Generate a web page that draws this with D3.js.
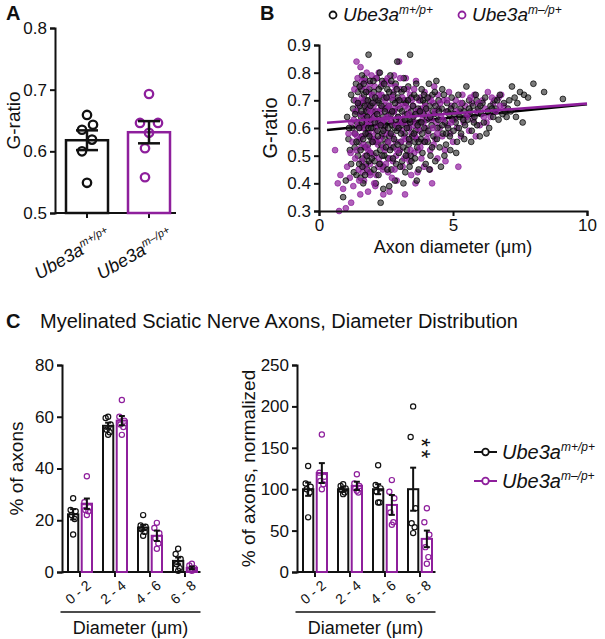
<!DOCTYPE html>
<html><head><meta charset="utf-8">
<script src="https://cdn.jsdelivr.net/npm/d3@7"></script>
<style>body{margin:0;background:#fff} text{font-family:"Liberation Sans",Arial,sans-serif;fill:#111}</style>
</head><body><svg id="c" width="605" height="639"></svg>
<script>
const PURPLE="#8e1f9c", BLACK="#111";
const genotypes=["m+/p+","m\u2013/p+"];
// ---------- Panel A ----------
const aMeans=[0.618,0.631];
const aSem=[0.016,0.018];
const aPointsWT=[0.659,0.643,0.635,0.619,0.600,0.549];
const aPointsMut=[0.693,0.646,0.646,0.630,0.605,0.558];
const aTicks=[0.5,0.6,0.7,0.8];
// ---------- Panel B ----------
const bTicksY=[0.3,0.4,0.5,0.6,0.7,0.8,0.9];
const bTicksX=[0,5,10];
const bFitWT=[[0.3,0.593],[10,0.686]];
const bFitMut=[[0.3,0.619],[10,0.688]];
const bWT=[[1.05,0.64],[1.1,0.56],[1.15,0.52],[1.2,0.47],[1.25,0.60],[1.3,0.70],[1.35,0.58],[1.4,0.66],[1.45,0.50],[1.3,0.44],[1.2,0.72],[1.38,0.76],[1.42,0.62],[1.48,0.55],[1.33,0.53],[1.27,0.67],[1.45,0.73],[1.12,0.60],[1.4,0.43],[0.9,0.35],[1.0,0.41],
[1.52,0.68],[1.55,0.61],[1.58,0.74],[1.6,0.57],[1.63,0.49],[1.66,0.65],[1.7,0.78],[1.72,0.53],[1.75,0.70],[1.78,0.62],[1.8,0.45],[1.82,0.58],[1.85,0.67],[1.88,0.74],[1.9,0.51],[1.93,0.63],[1.96,0.56],[1.98,0.71],[1.55,0.42],[1.65,0.40],[1.75,0.47],[1.6,0.79],[1.85,0.865],[1.7,0.60],[1.92,0.44],[1.57,0.64],[1.68,0.72],[1.83,0.54],[1.62,0.69],[1.77,0.66],
[2.02,0.60],[2.05,0.73],[2.08,0.48],[2.1,0.66],[2.13,0.55],[2.16,0.78],[2.2,0.62],[2.22,0.43],[2.25,0.69],[2.28,0.52],[2.3,0.33],[2.32,0.75],[2.35,0.58],[2.38,0.64],[2.4,0.46],[2.42,0.71],[2.45,0.56],[2.48,0.67],[2.12,0.40],[2.27,0.80],[2.44,0.50],[2.18,0.59],[2.36,0.77],[2.06,0.64],[2.33,0.54],[2.47,0.61],[2.21,0.70],[2.4,0.38],
[2.52,0.63],[2.55,0.74],[2.58,0.49],[2.6,0.68],[2.63,0.57],[2.66,0.79],[2.7,0.45],[2.72,0.61],[2.75,0.70],[2.78,0.53],[2.8,0.66],[2.83,0.41],[2.86,0.76],[2.9,0.59],[2.92,0.84],[2.95,0.64],[2.98,0.51],[2.62,0.39],[2.77,0.72],[2.88,0.47],[2.56,0.55],[2.68,0.65],[2.94,0.71],[2.82,0.60],
[3.02,0.67],[3.05,0.55],[3.08,0.73],[3.1,0.48],[3.13,0.62],[3.16,0.78],[3.2,0.58],[3.22,0.44],[3.25,0.69],[3.28,0.52],[3.3,0.65],[3.33,0.75],[3.36,0.60],[3.4,0.865],[3.42,0.50],[3.45,0.71],[3.48,0.57],[3.15,0.40],[3.38,0.46],[3.26,0.63],[3.07,0.61],[3.44,0.66],[3.18,0.70],[3.35,0.54],
[3.52,0.64],[3.55,0.72],[3.58,0.49],[3.6,0.59],[3.63,0.76],[3.66,0.53],[3.7,0.67],[3.72,0.45],[3.75,0.62],[3.78,0.70],[3.8,0.56],[3.83,0.74],[3.86,0.51],[3.9,0.65],[3.93,0.60],[3.96,0.69],[3.98,0.47],[3.65,0.41],[3.85,0.58],[3.74,0.66],[3.57,0.55],[3.92,0.72],
[4.02,0.63],[4.06,0.55],[4.1,0.76],[4.13,0.68],[4.16,0.50],[4.2,0.61],[4.23,0.72],[4.27,0.57],[4.3,0.65],[4.34,0.48],[4.38,0.77],[4.42,0.60],[4.46,0.70],[4.5,0.53],[4.12,0.45],[4.25,0.66],[4.4,0.56],[4.08,0.59],[4.45,0.63],[4.32,0.73],
[4.55,0.46],[4.58,0.67],[4.62,0.58],[4.66,0.72],[4.7,0.62],[4.74,0.54],[4.78,0.69],[4.82,0.60],[4.86,0.65],[4.9,0.52],[4.95,0.71],[4.98,0.63],[4.68,0.50],[4.88,0.57],[4.6,0.74],[4.8,0.66],
[5.02,0.59],[5.06,0.68],[5.1,0.62],[5.15,0.55],[5.2,0.72],[5.25,0.64],[5.3,0.58],[5.35,0.69],[5.4,0.66],[5.45,0.61],[5.5,0.75],[5.12,0.51],[5.28,0.67],[5.42,0.56],
[5.55,0.63],[5.6,0.70],[5.65,0.66],[5.7,0.59],[5.75,0.68],[5.8,0.64],[5.85,0.72],[5.9,0.61],[5.95,0.67],[6.0,0.57],[5.68,0.55],[5.88,0.70],
[6.05,0.65],[6.1,0.69],[6.15,0.62],[6.2,0.71],[6.3,0.66],[6.35,0.60],[6.4,0.68],[6.5,0.64],[6.55,0.70],[6.6,0.67],[6.7,0.63],[6.75,0.72],[6.85,0.65],[6.9,0.69],[6.95,0.66],[6.25,0.58],
[7.05,0.67],[7.1,0.70],[7.2,0.75],[7.3,0.71],[7.4,0.69],[7.5,0.73],[7.6,0.62],[7.65,0.72],[7.8,0.71],[8.0,0.76],[8.4,0.73],[9.1,0.705],[7.15,0.66],[7.35,0.64],
[1.35,0.65],[1.4,0.55],[1.45,0.69],[1.5,0.47],[1.5,0.60],[1.52,0.75],[1.55,0.52],[1.58,0.66],[1.6,0.62],[1.62,0.46],[1.65,0.56],[1.67,0.76],[1.7,0.68],[1.72,0.43],[1.74,0.58],[1.76,0.73],[1.78,0.50],[1.8,0.64],[1.82,0.70],[1.84,0.60],[1.86,0.48],[1.88,0.57],[1.9,0.77],[1.92,0.68],[1.95,0.60],[1.97,0.49],[2.0,0.55],[2.0,0.69],[2.03,0.77],[2.05,0.45],[2.08,0.62],[2.1,0.71],[2.14,0.51],[2.17,0.65],[2.2,0.57],[2.23,0.74],[2.26,0.47],[2.3,0.61],[2.33,0.68],[2.36,0.50],[2.4,0.59],[2.43,0.76],[2.46,0.66],[2.5,0.53],[2.52,0.71],[2.55,0.45],[2.58,0.60],[2.62,0.73],[2.65,0.52],[2.68,0.58],[2.7,0.77],[2.73,0.66],[2.76,0.49],[2.8,0.56],[2.84,0.69],[2.87,0.63],[2.9,0.74],[2.93,0.54],[2.97,0.60],[3.0,0.70],[3.03,0.46],[3.06,0.58],[3.1,0.66],[3.14,0.53],[3.17,0.74],[3.2,0.63],[3.24,0.50],[3.28,0.60],[3.32,0.70],[3.36,0.56],[3.4,0.62],[3.45,0.48],[3.5,0.68],[3.54,0.58],[3.6,0.65],[3.64,0.71],[3.68,0.61],[3.72,0.55],[3.77,0.66],[3.82,0.62],[3.88,0.70],[3.95,0.55],[4.0,0.67],[4.05,0.71],[4.15,0.64],[4.22,0.53],[4.35,0.68],[4.48,0.66],[4.6,0.61],[4.75,0.58],[4.92,0.67],[5.05,0.65],[5.22,0.60],[5.38,0.63],[5.6,0.67],[5.78,0.62],[6.02,0.68],[6.45,0.67],[6.65,0.70],[7.0,0.64]];
const bMut=[[0.6,0.52],[0.7,0.40],[0.75,0.30],[0.8,0.43],[0.9,0.38],[1.0,0.31],[1.05,0.46],[1.1,0.58],[1.15,0.42],[1.2,0.33],[1.25,0.55],[1.3,0.63],[1.35,0.49],[1.4,0.84],[1.45,0.68],[1.2,0.62],[1.32,0.74],[1.42,0.57],[1.28,0.39],[1.48,0.45],[1.38,0.70],[1.18,0.51],
[1.52,0.60],[1.55,0.82],[1.58,0.53],[1.6,0.71],[1.63,0.44],[1.66,0.64],[1.7,0.77],[1.73,0.50],[1.76,0.67],[1.8,0.58],[1.83,0.37],[1.86,0.73],[1.9,0.47],[1.93,0.62],[1.96,0.79],[1.99,0.55],[1.54,0.36],[1.68,0.41],[1.78,0.80],[1.88,0.65],[1.62,0.57],[1.72,0.61],[1.95,0.69],[1.84,0.52],[1.57,0.75],[1.91,0.43],
[2.02,0.66],[2.05,0.50],[2.08,0.75],[2.11,0.59],[2.14,0.43],[2.17,0.70],[2.2,0.54],[2.23,0.80],[2.26,0.63],[2.3,0.47],[2.33,0.72],[2.36,0.57],[2.4,0.36],[2.43,0.68],[2.46,0.52],[2.49,0.77],[2.1,0.39],[2.28,0.61],[2.38,0.45],[2.19,0.66],[2.45,0.60],[2.07,0.56],[2.32,0.67],[2.24,0.49],
[2.52,0.58],[2.55,0.71],[2.58,0.44],[2.6,0.65],[2.63,0.37],[2.66,0.76],[2.7,0.53],[2.73,0.62],[2.76,0.48],[2.8,0.79],[2.83,0.67],[2.86,0.55],[2.9,0.41],[2.93,0.70],[2.96,0.60],[2.99,0.84],[2.64,0.58],[2.78,0.73],[2.88,0.50],[2.57,0.67],[2.72,0.42],[2.95,0.64],
[3.02,0.52],[3.05,0.74],[3.08,0.63],[3.12,0.46],[3.15,0.69],[3.18,0.57],[3.21,0.36],[3.24,0.78],[3.27,0.61],[3.3,0.50],[3.33,0.67],[3.36,0.55],[3.4,0.72],[3.44,0.43],[3.47,0.64],[3.1,0.59],[3.26,0.70],[3.38,0.48],[3.2,0.65],[3.45,0.58],
[3.52,0.68],[3.55,0.51],[3.58,0.62],[3.62,0.77],[3.65,0.56],[3.68,0.44],[3.72,0.66],[3.75,0.59],[3.78,0.71],[3.82,0.49],[3.86,0.63],[3.9,0.55],[3.94,0.73],[3.98,0.60],[3.6,0.40],[3.8,0.67],[3.7,0.52],[3.92,0.46],
[4.03,0.66],[4.07,0.58],[4.11,0.71],[4.15,0.52],[4.19,0.63],[4.22,0.40],[4.26,0.69],[4.3,0.75],[4.34,0.56],[4.38,0.62],[4.42,0.49],[4.46,0.67],[4.5,0.60],[4.14,0.45],[4.28,0.54],[4.44,0.72],
[4.55,0.64],[4.6,0.57],[4.65,0.70],[4.7,0.52],[4.75,0.66],[4.8,0.61],[4.85,0.73],[4.9,0.58],[4.95,0.68],[5.0,0.55],[5.05,0.63],[5.1,0.70],[5.15,0.60],[5.2,0.46],[5.25,0.66],[5.3,0.57],[5.35,0.72],[5.4,0.62],[5.45,0.68],[4.72,0.48],
[5.55,0.65],[5.6,0.59],[5.7,0.69],[5.75,0.63],[5.8,0.72],[5.9,0.66],[6.0,0.61],[6.1,0.70],[6.2,0.67],[6.3,0.73],[6.4,0.64],[6.5,0.69],[6.6,0.66],[6.7,0.71],[6.8,0.72],[6.9,0.68],[5.85,0.57],[6.25,0.62],
[1.32,0.58],[1.36,0.66],[1.4,0.52],[1.44,0.78],[1.46,0.61],[1.5,0.69],[1.5,0.41],[1.53,0.56],[1.56,0.65],[1.59,0.48],[1.61,0.77],[1.64,0.60],[1.67,0.54],[1.69,0.70],[1.71,0.46],[1.74,0.63],[1.77,0.74],[1.79,0.53],[1.81,0.68],[1.83,0.61],[1.85,0.44],[1.87,0.58],[1.89,0.76],[1.92,0.66],[1.94,0.51],[1.97,0.63],[1.99,0.72],[2.01,0.57],[2.04,0.68],[2.06,0.40],[2.09,0.64],[2.12,0.78],[2.15,0.55],[2.18,0.61],[2.21,0.46],[2.24,0.72],[2.27,0.56],[2.3,0.66],[2.34,0.62],[2.37,0.76],[2.4,0.53],[2.43,0.63],[2.47,0.70],[2.5,0.47],[2.53,0.64],[2.56,0.78],[2.59,0.55],[2.62,0.68],[2.65,0.49],[2.69,0.63],[2.72,0.71],[2.75,0.57],[2.79,0.66],[2.82,0.45],[2.85,0.75],[2.89,0.61],[2.92,0.52],[2.96,0.68],[3.0,0.62],[3.03,0.78],[3.07,0.55],[3.11,0.71],[3.14,0.62],[3.18,0.49],[3.22,0.68],[3.25,0.56],[3.29,0.74],[3.33,0.60],[3.37,0.65],[3.42,0.52],[3.46,0.70],[3.5,0.61],[3.55,0.74],[3.59,0.57],[3.64,0.66],[3.69,0.60],[3.73,0.70],[3.78,0.53],[3.84,0.66],[3.9,0.62],[3.96,0.68],[4.02,0.56],[4.1,0.64],[4.18,0.70],[4.25,0.60],[4.33,0.66],[4.41,0.58],[4.52,0.69],[4.63,0.63],[4.78,0.70],[4.93,0.62],[5.1,0.66],[5.28,0.69],[5.5,0.64],[5.65,0.71],[5.95,0.69],[6.15,0.64],[6.45,0.71],[6.75,0.68]];
// ---------- Panel C ----------
const bins=["0 - 2","2 - 4","4 - 6","6 - 8"];
const cPctWT=[22.3,56.5,17.2,4.3];
const cPctMut=[26.4,58.5,14.0,1.6];
const cPctSemWT=[2.0,1.2,1.0,1.3];
const cPctSemMut=[2.0,1.8,2.0,0.5];
const cPctPtsWT=[[28.5,24,23.5,22,20.5,14.5],[60,59.5,57,55,54,53],[22,18,17.5,16.5,15.5,14],[9,7,5,3,1.5,0.5]];
const cPctPtsMut=[[37,27,25,24,23.5,22],[66.5,60,58.5,57,56,53],[19,17,15,13,11,9],[3.2,2.5,1.5,1,0.8,0.5]];
const cNormWT=[100,100,100,100];
const cNormMut=[119.5,104,81,40];
const cNormSemWT=[8,3,6,26];
const cNormSemMut=[12,5,12,10];
const cNormPtsWT=[[128,107,103,100,96,66],[106,104,101,99,96,94],[129,105,101,97,84,84],[200,163,77,59,54,47]];
const cNormPtsMut=[[166,120,115,110,106,100],[118,107,104,101,96,98],[111,97,89,72,60,57],[77,60,45,30,18,10]];
const cTicksPct=[0,20,40,60,80];
const cTicksNorm=[0,50,100,150,200,250];

const svg=d3.select("#c");
const colors=[BLACK,PURPLE];

function ubeLabel(t,sup,size,supSize){
  t.append("tspan").text("Ube3a").attr("font-style","italic");
  t.append("tspan").text(sup).attr("font-style","italic").attr("font-size",supSize).attr("dy",-size*0.38);
}
function styleAxis(g,fs){
  g.selectAll("path,line").attr("stroke","#111").attr("stroke-width",2);
  g.selectAll("text").attr("font-size",fs).attr("fill","#111");
}

// ===== Panel A =====
const aY=d3.scaleLinear().domain([0.5,0.8]).range([213,28]);
const aX=d3.scalePoint().domain(genotypes).range([87,149]);
svg.append("text").text("A").attr("x",6).attr("y",20).attr("font-size",20).attr("font-weight","bold");
const aAxY=svg.append("g").attr("transform","translate(55,0)").call(d3.axisLeft(aY).tickValues(aTicks).tickFormat(d3.format(".1f")).tickSize(5).tickPadding(3));
styleAxis(aAxY,17);
svg.append("line").attr("x1",55).attr("x2",176).attr("y1",aY(0.5)).attr("y2",aY(0.5)).attr("stroke","#111").attr("stroke-width",2);
genotypes.forEach((g,i)=>{
  const cx=aX(g);
  svg.append("line").attr("x1",cx).attr("x2",cx).attr("y1",aY(0.5)).attr("y2",aY(0.5)+5).attr("stroke","#111").attr("stroke-width",2);
  svg.append("rect").attr("x",cx-21).attr("width",42).attr("y",aY(aMeans[i])).attr("height",aY(0.5)-aY(aMeans[i]))
    .attr("fill","none").attr("stroke",colors[i]).attr("stroke-width",2.5);
  const pts=i===0?aPointsWT:aPointsMut;
  const jit=i===0?[0,6,-5,5,-5,0]:[0,-9,9,0,-4,-4];
  pts.forEach((v,k)=>svg.append("circle").attr("cx",cx+jit[k]).attr("cy",aY(v)).attr("r",4.2)
    .attr("fill","none").attr("stroke",colors[i]).attr("stroke-width",2.3));
  const lo=aY(aMeans[i]-aSem[i]), hi=aY(aMeans[i]+aSem[i]);
  svg.append("line").attr("x1",cx).attr("x2",cx).attr("y1",lo).attr("y2",hi).attr("stroke","#111").attr("stroke-width",2.5);
  [lo,hi].forEach(yy=>svg.append("line").attr("x1",cx-11).attr("x2",cx+11).attr("y1",yy).attr("y2",yy).attr("stroke","#111").attr("stroke-width",2.5));
  const t=svg.append("text").attr("font-size",18).attr("text-anchor","end")
    .attr("transform",`translate(${cx+25},238) rotate(-30)`);
  ubeLabel(t,genotypes[i],18,11);
});
svg.append("text").text("G-ratio").attr("font-size",19).attr("text-anchor","middle")
  .attr("transform",`translate(20,${aY(0.65)}) rotate(-90)`);

// ===== Panel B =====
const bX=d3.scaleLinear().domain([0,10]).range([319,587]);
const bY=d3.scaleLinear().domain([0.3,0.9]).range([211,45]);
svg.append("text").text("B").attr("x",260).attr("y",20).attr("font-size",20).attr("font-weight","bold");
const line=d3.line().x(d=>bX(d[0])).y(d=>bY(d[1]));
svg.append("path").datum(bFitWT).attr("d",line).attr("stroke","#000").attr("stroke-width",2.6).attr("fill","none");
const combined=[];
const nMax=Math.max(bWT.length,bMut.length);
for(let i=0;i<nMax;i++){ if(i<bWT.length)combined.push({p:bWT[i],s:0}); if(i<bMut.length)combined.push({p:bMut[i],s:1}); }
svg.append("g").selectAll("circle").data(combined).join("circle")
  .attr("cx",d=>bX(d.p[0])).attr("cy",d=>bY(d.p[1])).attr("r",2.9)
  .attr("fill",d=>d.s?PURPLE:"#222").attr("fill-opacity",d=>d.s?0.7:0.6)
  .attr("stroke",d=>d.s?PURPLE:"#000").attr("stroke-opacity",0.9).attr("stroke-width",0.8);
svg.append("path").datum(bFitMut).attr("d",line).attr("stroke",PURPLE).attr("stroke-width",2.6).attr("fill","none");
const bAxY=svg.append("g").attr("transform","translate(319,0)").call(d3.axisLeft(bY).tickValues(bTicksY).tickFormat(d3.format(".1f")).tickSize(5).tickPadding(3));
styleAxis(bAxY,17);
const bAxX=svg.append("g").attr("transform","translate(0,211)").call(d3.axisBottom(bX).tickValues(bTicksX).tickFormat(d3.format("d")).tickSize(5).tickPadding(3));
styleAxis(bAxX,17);
svg.append("text").attr("x",bX(5)).attr("y",253).attr("text-anchor","middle").attr("font-size",18).text("Axon diameter (\u03bcm)");
svg.append("text").text("G-ratio").attr("font-size",20).attr("text-anchor","middle")
  .attr("transform",`translate(277,${bY(0.6)}) rotate(-90)`);
// legend B
[[333,0],[462,1]].forEach(([lx,i])=>{
  svg.append("circle").attr("cx",lx).attr("cy",15).attr("r",3.5).attr("fill","none").attr("stroke",colors[i]).attr("stroke-width",1.8);
  const t=svg.append("text").attr("x",lx+10).attr("y",21).attr("font-size",19);
  ubeLabel(t,genotypes[i],19,12);
});

// ===== Panel C =====
svg.append("text").text("C").attr("x",6).attr("y",328).attr("font-size",20).attr("font-weight","bold");
svg.append("text").text("Myelinated Sciatic Nerve Axons, Diameter Distribution").attr("x",40).attr("y",328).attr("font-size",20);

function grouped(x0start,yDomain,ticks,mWT,mMut,sWT,sMut,pWT,pMut,yTitle,titleX){
  const x0=d3.scaleBand().domain(bins).range([x0start,x0start+140]);
  const x1=d3.scaleBand().domain(genotypes).range([5.5,29.5]).paddingInner(0.25);
  const y=d3.scaleLinear().domain(yDomain).range([572,365]);
  const ax=svg.append("g").attr("transform",`translate(${x0start-0.5},0)`).call(d3.axisLeft(y).tickValues(ticks).tickSize(5).tickPadding(3));
  styleAxis(ax,17);
  svg.append("line").attr("x1",x0start-0.5).attr("x2",x0start+138).attr("y1",572).attr("y2",572).attr("stroke","#111").attr("stroke-width",2);
  bins.forEach((b,j)=>{
    const gc=x0(b)+x0.bandwidth()/2;
    svg.append("line").attr("x1",gc).attr("x2",gc).attr("y1",572).attr("y2",577).attr("stroke","#111").attr("stroke-width",2);
    svg.append("text").text(b).attr("font-size",14).attr("text-anchor","end")
      .attr("transform",`translate(${gc+12},587) rotate(-40)`);
    [[mWT,sWT,pWT,0],[mMut,sMut,pMut,1]].forEach(([m,s,p,i])=>{
      const bx=x0(b)+x1(genotypes[i]); const bw=x1.bandwidth(); const cx=bx+bw/2;
      svg.append("rect").attr("x",bx).attr("width",bw).attr("y",y(m[j])).attr("height",572-y(m[j]))
        .attr("fill","none").attr("stroke",colors[i]).attr("stroke-width",2);
      const jit=[0,-2.5,2.5,-1.5,1.5,0];
      p[j].forEach((v,k)=>svg.append("circle").attr("cx",cx+jit[k]).attr("cy",y(v)).attr("r",2.6)
        .attr("fill","none").attr("stroke",colors[i]).attr("stroke-width",1.2));
      const lo=y(Math.max(0,m[j]-s[j])), hi=y(m[j]+s[j]);
      svg.append("line").attr("x1",cx).attr("x2",cx).attr("y1",lo).attr("y2",hi).attr("stroke","#111").attr("stroke-width",2);
      [lo,hi].forEach(yy=>svg.append("line").attr("x1",cx-3).attr("x2",cx+3).attr("y1",yy).attr("y2",yy).attr("stroke","#111").attr("stroke-width",2));
    });
  });
  svg.append("line").attr("x1",x0start-2).attr("x2",x0start+138).attr("y1",612).attr("y2",612).attr("stroke","#111").attr("stroke-width",1.5);
  svg.append("text").text("Diameter (\u03bcm)").attr("x",x0start+68).attr("y",634).attr("text-anchor","middle").attr("font-size",18);
  svg.append("text").text(yTitle).attr("font-size",19).attr("text-anchor","middle")
    .attr("transform",`translate(${titleX},${y((yDomain[0]+yDomain[1])/2)}) rotate(-90)`);
  return {x0,x1,y};
}
grouped(62.5,[0,80],cTicksPct,cPctWT,cPctMut,cPctSemWT,cPctSemMut,cPctPtsWT,cPctPtsMut,"% of axons",23);
const R=grouped(297.5,[0,250],cTicksNorm,cNormWT,cNormMut,cNormSemWT,cNormSemMut,cNormPtsWT,cNormPtsMut,"% of axons, normalized",255);
// significance: "**" set vertically as one text (rotated so the two asterisks stack)
const sx=R.x0("6 - 8")+R.x1(genotypes[1])+R.x1.bandwidth()/2;
svg.append("text").text("**").attr("font-size",23).attr("text-anchor","middle").attr("letter-spacing",2.5)
  .attr("transform",`translate(${sx-13.5},${R.y(148)}) rotate(90)`);
// legend C
[[452,0],[481,1]].forEach(([ly,i])=>{
  svg.append("line").attr("x1",474).attr("x2",497).attr("y1",ly).attr("y2",ly).attr("stroke",colors[i]).attr("stroke-width",2);
  svg.append("circle").attr("cx",485.5).attr("cy",ly).attr("r",3.3).attr("fill","#fff").attr("stroke",colors[i]).attr("stroke-width",1.8);
  const t=svg.append("text").attr("x",502).attr("y",ly+7).attr("font-size",20);
  ubeLabel(t,genotypes[i],20,12);
});
</script></body></html>
